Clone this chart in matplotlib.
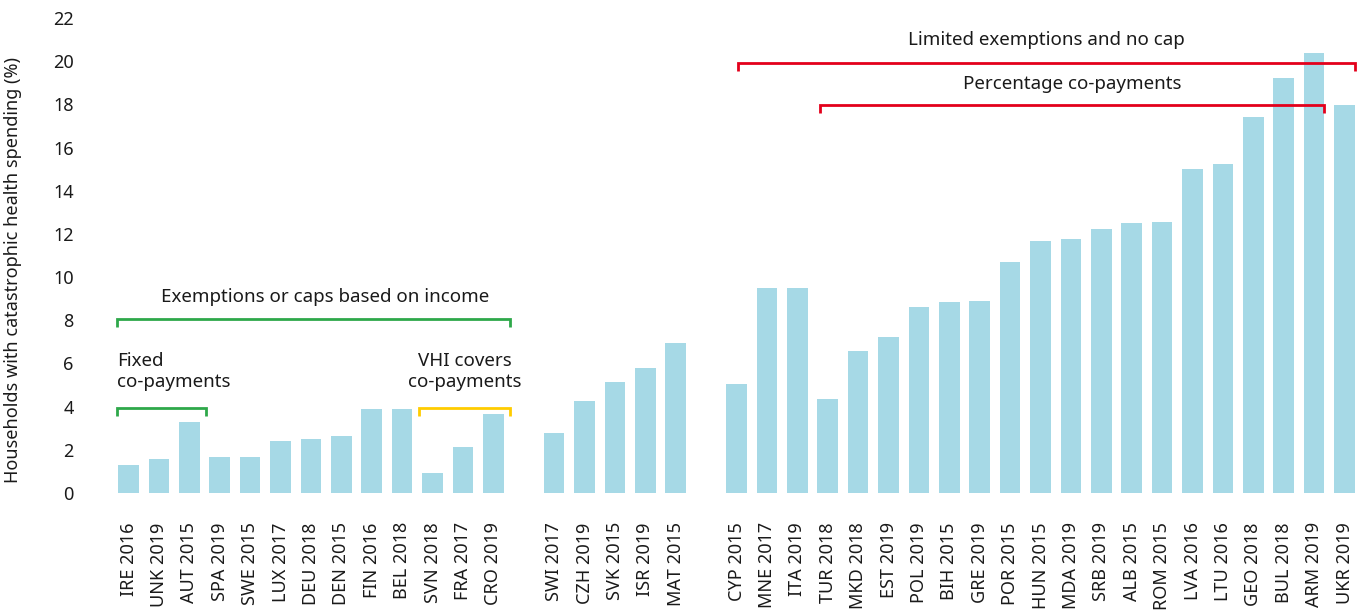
import matplotlib
matplotlib.use("Agg")
import matplotlib.pyplot as plt

plt.rcParams['font.family'] = ['Noto Sans', 'DejaVu Sans']

# countries in three groups
group_a = ['IRE 2016', 'UNK 2019', 'AUT 2015', 'SPA 2019', 'SWE 2015', 'LUX 2017',
           'DEU 2018', 'DEN 2015', 'FIN 2016', 'BEL 2018', 'SVN 2018', 'FRA 2017', 'CRO 2019']
values_a = [1.3, 1.57, 3.31, 1.69, 1.69, 2.43, 2.51, 2.66, 3.89, 3.89, 0.92, 2.14, 3.66]

group_b = ['SWI 2017', 'CZH 2019', 'SVK 2015', 'ISR 2019', 'MAT 2015']
values_b = [2.77, 4.25, 5.15, 5.77, 6.97]

group_c = ['CYP 2015', 'MNE 2017', 'ITA 2019', 'TUR 2018', 'MKD 2018', 'EST 2019', 'POL 2019',
           'BIH 2015', 'GRE 2019', 'POR 2015', 'HUN 2015', 'MDA 2019', 'SRB 2019', 'ALB 2015',
           'ROM 2015', 'LVA 2016', 'LTU 2016', 'GEO 2018', 'BUL 2018', 'ARM 2019', 'UKR 2019']
values_c = [5.05, 9.48, 9.48, 4.34, 6.57, 7.22, 8.62, 8.85, 8.91, 10.69, 11.66, 11.77,
            12.25, 12.49, 12.57, 15.0, 15.25, 17.43, 19.23, 20.37, 17.97]

BAR = '#a6d9e6'
GREEN = '#2ea84a'
YELLOW = '#ffcc00'
RED = '#e3001b'
TXT = '#1a1a1a'

# one empty slot between groups
labels, values, xs = [], [], []
pos = 0
for names, vals in [(group_a, values_a), (group_b, values_b), (group_c, values_c)]:
    for n, v in zip(names, vals):
        labels.append(n)
        values.append(v)
        xs.append(pos)
        pos += 1
    pos += 1

fig = plt.figure(figsize=(13.63, 6.10), dpi=100)
ax = fig.add_axes([104.2 / 1363, 117 / 610, (1359.7 - 104.2) / 1363, 475 / 610])

ax.bar(xs, values, width=0.68, color=BAR, edgecolor='none')

ax.set_xlim(-0.8, 40.5)
ax.set_ylim(0, 22)
ax.set_yticks(range(0, 23, 2))
ax.set_xticks(xs)
ax.set_xticklabels(labels, rotation=90, fontsize=13, color=TXT)
ax.tick_params(axis='y', length=0, pad=22, labelsize=13, labelcolor=TXT)
ax.tick_params(axis='x', length=0, pad=21)
for s in ax.spines.values():
    s.set_visible(False)
ax.set_ylabel('Households with catastrophic health spending (%)', fontsize=13, color=TXT)
ax.yaxis.set_label_coords(-0.0655, 0.47)


def bracket(x0, x1, y, color, depth=0.37):
    ax.plot([x0, x0, x1, x1], [y - depth, y, y, y - depth], color=color,
            lw=2.0, solid_joinstyle='miter', solid_capstyle='butt', clip_on=False)


bracket(-0.39, 12.55, 8.06, GREEN)
bracket(-0.38, 2.55, 3.95, GREEN)
bracket(9.56, 12.55, 3.95, YELLOW)
bracket(20.05, 40.35, 19.92, RED)
bracket(22.75, 39.32, 17.97, RED)

kw = dict(fontsize=13.5, color=TXT)
ax.text(6.46, 9.08, 'Exemptions or caps based on income', ha='center', va='center', **kw)
ax.text(-0.38, 5.63, 'Fixed\nco-payments', ha='left', va='center', linespacing=1.24, **kw)
ax.text(11.07, 5.63, 'VHI covers\nco-payments', ha='center', va='center', linespacing=1.24, **kw)
ax.text(30.2, 21.0, 'Limited exemptions and no cap', ha='center', va='center', **kw)
ax.text(31.04, 18.94, 'Percentage co-payments', ha='center', va='center', **kw)

fig.savefig('out.png', dpi=100)
